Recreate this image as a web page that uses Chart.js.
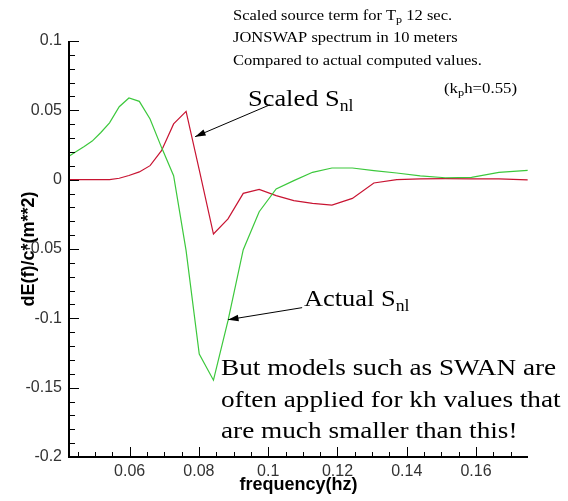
<!DOCTYPE html>
<html>
<head>
<meta charset="utf-8">
<script src="https://cdn.jsdelivr.net/npm/chart.js@4"></script>
<style>
body{margin:0;background:#fff;}
</style>
</head>
<body>
<canvas id="myChart" width="568" height="501"></canvas>
<script>
// frequency(hz) - log spaced grid
var freq = [0.0425, 0.0446, 0.0469, 0.0492, 0.0517, 0.0542, 0.0570, 0.0598, 0.0628, 0.0659,
	0.0692, 0.0727, 0.0763, 0.0801, 0.0842, 0.0884, 0.0928, 0.0974, 0.1023, 0.1074,
	0.1128, 0.1184, 0.1243, 0.1305, 0.1371, 0.1439, 0.1511, 0.1587, 0.1666, 0.1749];
// Actual Snl (green)
var actualSnl = [0.0169, 0.0203, 0.0239, 0.0278, 0.0340, 0.0410, 0.0526, 0.0589, 0.0565, 0.0438,
	0.0233, 0.0029, -0.0512, -0.1257, -0.1446, -0.1017, -0.0505, -0.0231, -0.0067, -0.0007,
	0.0053, 0.0084, 0.0084, 0.0065, 0.0048, 0.0027, 0.0014, 0.0017, 0.0053, 0.0067];
// Scaled Snl (red)
var scaledSnl = [0, 0, 0, 0, 0, 0, 0.0010, 0.0030, 0.0056, 0.0101,
	0.0209, 0.0402, 0.0492, 0.0071, -0.0392, -0.0283, -0.0099, -0.0070, -0.0115, -0.0151,
	-0.0171, -0.0183, -0.0135, -0.0024, 0, 0.0005, 0.0007, 0.0005, 0.0005, -0.0002];
// tick labels
var xTicks = [0.06, 0.08, 0.1, 0.12, 0.14, 0.16];
var yTicks = [-0.2, -0.15, -0.1, -0.05, 0, 0.05, 0.1];

var serif = '"Liberation Serif", "Times New Roman", serif';
var sans = '"Liberation Sans", Arial, sans-serif';

//텍스트 + 아래첨자 (가로로 조금 늘림)
function drawParts(ctx, x, y, parts, size, subSize, stretch){
	ctx.save();
	ctx.translate(x, y);
	ctx.scale(stretch, 1);
	var cx = 0;
	parts.forEach(function(p){
		if(typeof p == 'string'){
			ctx.font = size + 'px ' + serif;
			ctx.fillText(p, cx, 0);
		}else{
			ctx.font = subSize + 'px ' + serif;
			ctx.fillText(p.sub, cx, size*0.22);
			p = p.sub;
		}
		cx += ctx.measureText(p).width;
	});
	ctx.restore();
}

function drawArrow(ctx, x1, y1, x2, y2){
	var ang = Math.atan2(y2 - y1, x2 - x1);
	ctx.beginPath();
	ctx.moveTo(x1, y1);
	ctx.lineTo(x2, y2);
	ctx.stroke();
	ctx.beginPath();
	ctx.moveTo(x2, y2);
	ctx.lineTo(x2 - 11*Math.cos(ang - 0.3), y2 - 11*Math.sin(ang - 0.3));
	ctx.lineTo(x2 - 11*Math.cos(ang + 0.3), y2 - 11*Math.sin(ang + 0.3));
	ctx.closePath();
	ctx.fill();
}

//축, 안쪽 눈금
var axisPlugin = {
	id: 'axisPlugin',
	afterDatasetsDraw: function(chart){
		var ctx = chart.ctx, a = chart.chartArea;
		var xs = chart.scales.x, ys = chart.scales.y;
		ctx.save();
		ctx.strokeStyle = '#000';
		ctx.lineWidth = 1;
		ctx.beginPath();
		for(var i = 9; i <= 35; i++){
			var px = Math.round(xs.getPixelForValue(i*0.005)) + 0.5;
			if(px > a.right) break;
			var len = (i % 4 == 0) ? 10 : 5;
			ctx.moveTo(px, a.bottom);
			ctx.lineTo(px, a.bottom - len);
		}
		for(var j = -20; j <= 10; j++){
			var py = Math.round(ys.getPixelForValue(j*0.01)) + 0.5;
			var len2 = (j % 5 == 0) ? 10 : 6;
			ctx.moveTo(a.left, py);
			ctx.lineTo(a.left + len2, py);
		}
		ctx.stroke();
		ctx.lineWidth = 2;
		ctx.beginPath();
		ctx.moveTo(a.left, a.top);
		ctx.lineTo(a.left, a.bottom);
		ctx.lineTo(a.right, a.bottom);
		ctx.stroke();
		ctx.restore();
	},
	afterDraw: function(chart){
		var ctx = chart.ctx;
		var xs = chart.scales.x, ys = chart.scales.y;
		ctx.save();
		ctx.fillStyle = '#000';
		ctx.strokeStyle = '#000';
		ctx.textBaseline = 'alphabetic';
		drawParts(ctx, 233, 20, ['Scaled source term for T', {sub: 'p'}, ' 12 sec.'], 15, 11, 1.1);
		drawParts(ctx, 233, 42, ['JONSWAP spectrum in 10 meters'], 15, 11, 1.1);
		drawParts(ctx, 233, 65, ['Compared to actual computed values.'], 15, 11, 1.1);
		drawParts(ctx, 444, 93, ['(k', {sub: 'p'}, 'h=0.55)'], 15, 11, 1.12);
		drawParts(ctx, 248, 106, ['Scaled S', {sub: 'nl'}], 24, 16, 1.1);
		drawParts(ctx, 304, 306, ['Actual S', {sub: 'nl'}], 24, 16, 1.1);
		drawParts(ctx, 221, 375, ['But models such as SWAN are'], 24, 16, 1.135);
		drawParts(ctx, 221, 407, ['often applied for kh values that'], 24, 16, 1.135);
		drawParts(ctx, 221, 438, ['are much smaller than this!'], 24, 16, 1.135);
		ctx.lineWidth = 1;
		drawArrow(ctx, xs.getPixelForValue(0.1005), ys.getPixelForValue(0.054),
			xs.getPixelForValue(0.0789), ys.getPixelForValue(0.031));
		drawArrow(ctx, xs.getPixelForValue(0.1098), ys.getPixelForValue(-0.0923),
			xs.getPixelForValue(0.0884), ys.getPixelForValue(-0.101));
		ctx.restore();
	}
};

function toPoints(ys){
	return freq.map(function(f, i){ return {x: f, y: ys[i]}; });
}

var ctx = document.getElementById('myChart');
var chart = new Chart(ctx, {
	type: 'line',
	data: {
		datasets: [{
			label: 'Actual Snl',
			data: toPoints(actualSnl),
			borderColor: 'rgb(60,200,60)',
			borderWidth: 1.2,
			pointRadius: 0,
			tension: 0
		}, {
			label: 'Scaled Snl',
			data: toPoints(scaledSnl),
			borderColor: 'rgb(200,20,50)',
			borderWidth: 1.2,
			pointRadius: 0,
			tension: 0
		}]
	},
	options: {
		responsive: false,
		animation: false,
		layout: {padding: {left: 0, top: 41, right: 40, bottom: 0}},
		plugins: {legend: {display: false}, tooltip: {enabled: false}},
		scales: {
			x: {
				type: 'linear',
				min: 0.0425,
				max: 0.175,
				afterBuildTicks: function(s){ s.ticks = xTicks.map(function(v){ return {value: v}; }); },
				afterFit: function(s){ s.height = 44; },
				grid: {display: false, drawTicks: false},
				border: {display: false},
				ticks: {padding: 5, color: '#333', font: {family: sans, size: 16},
					maxRotation: 0, autoSkip: false,
					callback: function(v){ return String(v); }},
				title: {display: true, text: 'frequency(hz)', color: '#000',
					font: {family: sans, size: 18, weight: 'bold'}, padding: {top: 0, bottom: 5}}
			},
			y: {
				min: -0.2,
				max: 0.1,
				afterBuildTicks: function(s){ s.ticks = yTicks.map(function(v){ return {value: v}; }); },
				afterFit: function(s){ s.width = 69; },
				grid: {display: false, drawTicks: false},
				border: {display: false},
				ticks: {padding: 7, color: '#333', font: {family: sans, size: 16},
					autoSkip: false,
					callback: function(v){ return String(v); }},
				title: {display: true, text: 'dE(f)/c*(m**2)', color: '#000',
					font: {family: sans, size: 18, weight: 'bold'}, padding: {top: 18, bottom: 0}}
			}
		}
	},
	plugins: [axisPlugin]
});
</script>
</body>
</html>
